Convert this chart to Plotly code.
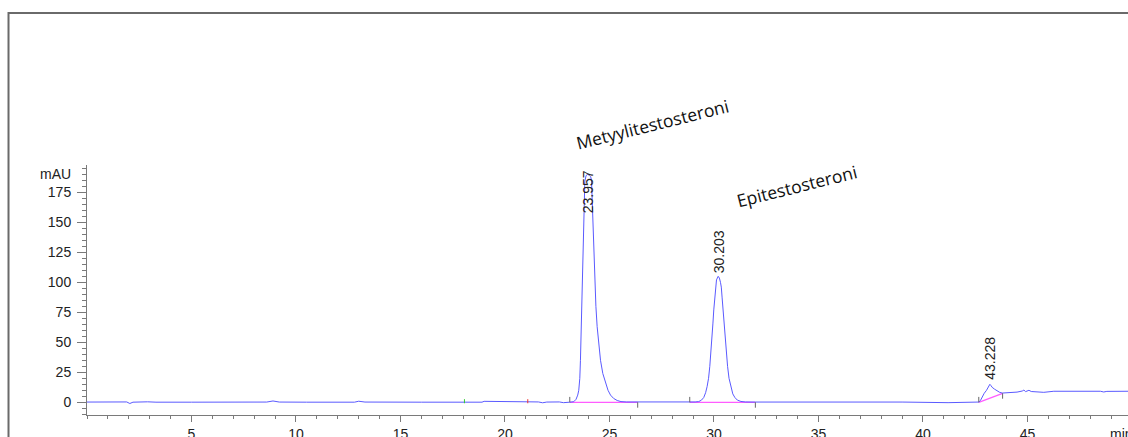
import plotly.graph_objects as go

# ---- chromatogram signal (time in min, signal in mAU) ----
time_min = [
    0.0, 1.0, 1.5, 1.9, 2.05, 2.2, 2.9, 3.3, 5.0, 6.4, 6.6, 6.8, 8.6, 8.9, 9.2,
    10.5, 12.8, 13.0, 13.3, 16.0, 18.9, 19.0, 20.8, 21.0, 21.6, 21.8, 22.0, 22.6,
    22.8, 23.1, 23.29, 23.40, 23.48, 23.53, 23.58, 23.61, 23.66, 23.71, 23.76,
    23.82, 23.88, 23.96, 24.04, 24.10, 24.14, 24.20, 24.28, 24.35, 24.41, 24.49,
    24.57, 24.68, 24.81, 24.93, 25.05, 25.20, 25.37, 25.55, 25.80, 26.35,
    28.84, 29.10, 29.27, 29.40, 29.51, 29.60, 29.67, 29.74, 29.80, 29.86, 29.91,
    29.95, 29.99, 30.03, 30.07, 30.12, 30.20, 30.26, 30.31, 30.35, 30.39, 30.43,
    30.47, 30.52, 30.58, 30.65, 30.72, 30.81, 30.90, 31.00, 31.12, 31.29, 31.50,
    32.0, 33.0, 35.5, 35.7, 35.9, 36.1, 36.4, 36.6, 36.8, 39.0, 41.2, 42.3, 42.5,
    42.67, 42.75, 42.83, 42.93, 43.04, 43.12, 43.20, 43.25, 43.31, 43.42, 43.55,
    43.67, 43.79, 44.0, 44.19, 44.5, 44.75, 44.83, 44.91, 45.0, 45.07, 45.18,
    45.4, 45.78, 46.26, 47.0, 48.0, 48.49, 48.65, 48.8, 49.81,
]
signal_mau = [
    0.2, 0.2, 0.4, 0.3, -1.0, 0.1, 0.4, 0.1, 0.1, 0.2, 0.6, 0.2, 0.2, 1.1, 0.2,
    0.1, 0.1, 0.9, 0.2, 0.1, 0.1, 0.8, 0.8, 0.2, 0.3, -0.4, 0.2, 0.3,
    -0.3, 0.1, 0.5, 2.5, 6.0, 10.0, 20.0, 35.0, 77.0, 118.0, 160.0,
    184.0, 189.0, 190.0, 189.0, 188.0, 185.0, 150.0, 106.0, 80.0, 63.0, 48.0,
    35.0, 24.0, 16.0, 10.0, 6.0, 3.2, 1.5, 0.6, 0.3, 0.2,
    0.2, 0.3, 0.6, 1.8, 4.0, 8.0, 13.0, 20.0, 30.0, 42.0, 55.0,
    66.0, 77.0, 87.0, 96.0, 102.0, 105.0, 103.5, 100.0, 96.0, 87.0, 77.0,
    66.0, 55.0, 42.0, 30.0, 20.0, 12.0, 7.0, 4.0, 1.8, 0.7, 0.3,
    0.2, 0.2, 0.2, 0.5, 0.0, 0.4, 0.1, 0.4, 0.2, 0.2, -0.3, -0.3, 0.1,
    0.2, 1.5, 4.7, 7.5, 10.0, 12.5, 15.0, 14.0, 12.5, 11.0, 9.4,
    8.3, 7.7, 7.8, 7.9, 8.5, 9.4, 10.2, 8.9, 9.3, 10.0, 9.0,
    8.6, 8.3, 9.2, 9.3, 9.2, 9.2, 8.6, 9.1, 9.2,
]

# ---- integration baselines ----
base_start_t = [23.10, 28.84, 42.67]
base_end_t = [26.35, 31.98, 43.81]
base_start_v = [0.0, 0.0, 0.0]
base_end_v = [0.0, 0.0, 7.5]

# ---- event marks (time, colour) ----
event_t = [18.06, 21.09]
event_colors = ["#33cc33", "#ee3333"]

# ---- peak retention time labels ----
rt_labels = ["23.957", "30.203", "43.228"]
rt_label_t = [23.95, 30.22, 43.23]
rt_label_v = [155.9, 105.9, 17.1]

# ---- compound names (x in minutes, y as fraction of plot height) ----
compound_names = ["Metyylitestosteroni", "Epitestosteroni"]
compound_t = [27.05, 33.93]
compound_yfrac = [1.166, 0.918]

# ---- axes ----
x_range = [0, 49.81]
y_range = [-10.58, 197.75]
x_ticks = [5, 10, 15, 20, 25, 30, 35, 40, 45]
y_ticks = [0, 25, 50, 75, 100, 125, 150, 175]

fig = go.Figure()

# integration baselines (magenta)
for t0, t1, v0, v1 in zip(base_start_t, base_end_t, base_start_v, base_end_v):
    fig.add_trace(go.Scatter(x=[t0, t1], y=[v0, v1], mode="lines",
                             line=dict(color="#ff5cff", width=1.3),
                             hoverinfo="skip", showlegend=False))

# signal
fig.add_trace(go.Scatter(x=time_min, y=signal_mau, mode="lines",
                         line=dict(color="#5a5aff", width=1),
                         showlegend=False))

# peak start / end ticks
for t0, t1, v0, v1 in zip(base_start_t, base_end_t, base_start_v, base_end_v):
    fig.add_trace(go.Scatter(x=[t0, t0], y=[v0, v0 + 4.5], mode="lines",
                             line=dict(color="#666666", width=1),
                             hoverinfo="skip", showlegend=False))
    fig.add_trace(go.Scatter(x=[t1, t1], y=[v1, v1 - 4.5], mode="lines",
                             line=dict(color="#666666", width=1),
                             hoverinfo="skip", showlegend=False))

# event marks
for t, c in zip(event_t, event_colors):
    fig.add_trace(go.Scatter(x=[t, t], y=[-0.8, 2.6], mode="lines",
                             line=dict(color=c, width=1),
                             hoverinfo="skip", showlegend=False))

annotations = []
for lab, t, v in zip(rt_labels, rt_label_t, rt_label_v):
    annotations.append(dict(x=t, y=v, xref="x", yref="y", text=lab, showarrow=False,
                            textangle=-90, xanchor="center", yanchor="bottom",
                            font=dict(family="Liberation Sans, Arial", size=14, color="#222222")))
for name, t, yf in zip(compound_names, compound_t, compound_yfrac):
    annotations.append(dict(x=t, y=yf, xref="x", yref="paper", text=name, showarrow=False,
                            textangle=-14, xanchor="center", yanchor="middle",
                            font=dict(family="Open Sans", size=17.5, color="#111111")))
annotations.append(dict(x=-0.0135, y=190.3, xref="paper", yref="y", text="mAU",
                        showarrow=False, xanchor="right", yanchor="middle",
                        font=dict(family="Liberation Sans, Arial", size=14, color="#222222")))
annotations.append(dict(x=0.981, y=-0.035, xref="paper", yref="paper", text="min",
                        showarrow=False, xanchor="left", yanchor="top",
                        font=dict(family="Liberation Sans, Arial", size=14, color="#222222")))

fig.update_layout(
    width=1128, height=437, autosize=False,
    margin=dict(l=87, r=0, t=165, b=22, pad=0),
    paper_bgcolor="white", plot_bgcolor="white",
    annotations=annotations,
    shapes=[dict(type="rect", xref="paper", yref="paper",
                 x0=-0.0754, x1=1.05, y0=-0.2, y1=1.608,
                 line=dict(color="#6a6a6a", width=2), fillcolor="rgba(0,0,0,0)",
                 layer="below")],
)
fig.update_xaxes(range=x_range, tickvals=x_ticks, ticktext=[str(v) for v in x_ticks],
                 automargin=False,
                 showgrid=False, zeroline=False, showline=True, linecolor="#7a7a7a", linewidth=1,
                 ticks="outside", ticklen=6, tickcolor="#7a7a7a", tickwidth=1,
                 minor=dict(dtick=1, tick0=0, ticks="outside", ticklen=3, tickcolor="#7a7a7a", showgrid=False),
                 tickfont=dict(family="Liberation Sans, Arial", size=14, color="#222222"))
fig.update_yaxes(range=y_range, tickvals=y_ticks, ticktext=[str(v) for v in y_ticks],
                 automargin=False,
                 showgrid=False, zeroline=False, showline=True, linecolor="#7a7a7a", linewidth=1,
                 ticks="outside", ticklen=9, tickcolor="#7a7a7a", tickwidth=1, ticklabelstandoff=3,
                 minor=dict(dtick=5, tick0=0, ticks="outside", ticklen=4, tickcolor="#7a7a7a", showgrid=False),
                 tickfont=dict(family="Liberation Sans, Arial", size=14, color="#222222"))

fig.write_html("out.html", config={"displayModeBar": False},
               post_script="document.body.style.margin='0';document.body.style.overflow='hidden';")
